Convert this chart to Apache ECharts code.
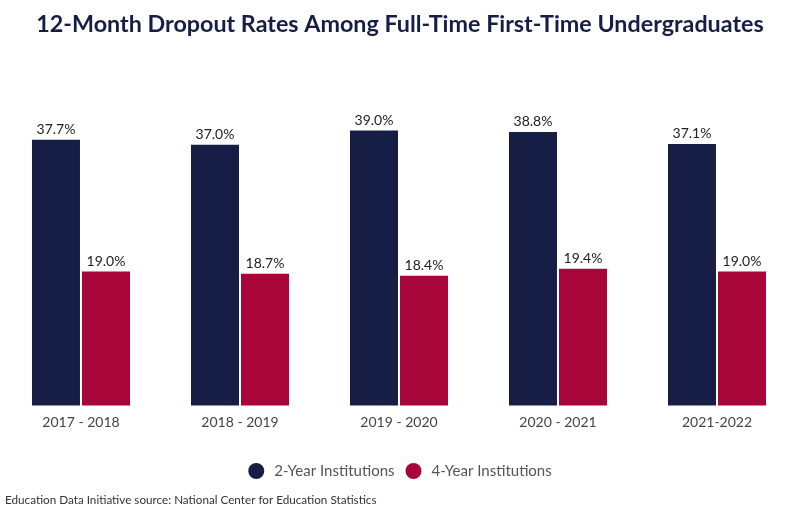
<!DOCTYPE html>
<html><head><meta charset="utf-8">
<script src="https://cdn.jsdelivr.net/npm/echarts@6/dist/echarts.min.js"></script>
<style>html,body{margin:0;padding:0;background:#fff}#c{width:800px;height:516px}</style>
</head><body><div id="c"></div>
<script>
const categories = ['2017 - 2018','2018 - 2019','2019 - 2020','2020 - 2021','2021-2022'];
const twoYear = [37.7, 37.0, 39.0, 38.8, 37.1];
const fourYear = [19.0, 18.7, 18.4, 19.4, 19.0];
const chart = echarts.init(document.getElementById('c'));
const lbl = {show:true, position:'top', distance:3, color:'#222', fontSize:14, fontFamily:'Lato', formatter: p => p.value.toFixed(1) + '%'};
chart.setOption({
  animation:false,
  title:{text:'12-Month Dropout Rates Among Full-Time First-Time Undergraduates', left:'center', top:8,
    textStyle:{fontFamily:'Lato', fontWeight:'bold', fontSize:23.3, color:'#161e45'}},
  graphic:[{type:'text', left:5, top:494, style:{text:'Education Data Initiative source: National Center for Education Statistics', fontFamily:'Lato', fontSize:11.7, fill:'#333'}}],
  legend:{bottom:32, left:'center', icon:'circle', itemWidth:16, itemHeight:16, itemGap:11,
    textStyle:{fontFamily:'Lato', fontSize:15, color:'#555', padding:[0,0,0,5]}},
  grid:{left:1.5, right:3.5, top:123.5, bottom:110.5, containLabel:false},
  xAxis:{type:'category', data:categories, axisLine:{show:false}, axisTick:{show:false},
    axisLabel:{fontFamily:'Lato', fontSize:14, color:'#444', margin:10}},
  yAxis:{type:'value', min:0, max:40, show:false, splitLine:{show:false}},
  series:[
    {name:'2-Year Institutions', type:'bar', data:twoYear, barWidth:48, barGap:'4.2%', itemStyle:{color:'#161e45'}, label:lbl},
    {name:'4-Year Institutions', type:'bar', data:fourYear, barWidth:48, itemStyle:{color:'#a8063a'}, label:lbl}
  ]
});
</script></body></html>
